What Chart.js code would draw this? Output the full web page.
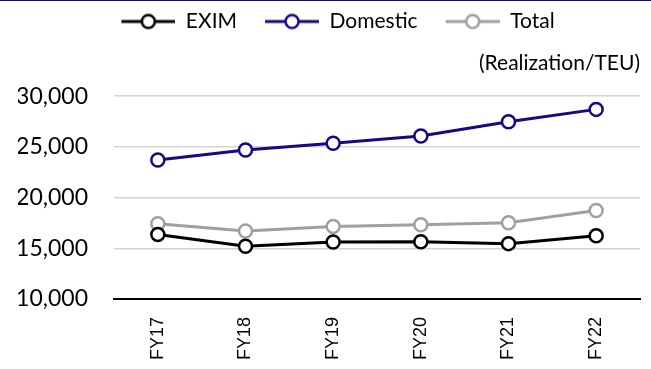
<!DOCTYPE html>
<html>
<head>
<meta charset="utf-8">
<script src="https://cdn.jsdelivr.net/npm/chart.js@4"></script>
<style>
  html, body { margin: 0; padding: 0; background: #fff; }
  #wrap { width: 651px; height: 369px; border-top: 1px solid #1a0a80; box-sizing: border-box; }
</style>
</head>
<body>
<div id="wrap"><canvas id="realizationChart" width="651" height="368"></canvas></div>
<script>
var labels = ["FY17", "FY18", "FY19", "FY20", "FY21", "FY22"];
var eximData = [16370, 15200, 15620, 15650, 15460, 16240];
var domesticData = [23700, 24700, 25360, 26080, 27480, 28700];
var totalData = [17420, 16700, 17160, 17320, 17520, 18730];

var eximColor = "#000000";
var domesticColor = "#140a82";
var totalColor = "#a0a0a0";

// legend marker: short line with hollow circle (left part is blank spacing)
var markerGap = 18;
var makeMarker = function(color) {
  var c = document.createElement("canvas");
  c.width = 54 + markerGap;
  c.height = 18;
  var ctx = c.getContext("2d");
  ctx.strokeStyle = color;
  ctx.lineWidth = 3;
  ctx.beginPath();
  ctx.moveTo(markerGap, 9);
  ctx.lineTo(markerGap + 54, 9);
  ctx.stroke();
  ctx.beginPath();
  ctx.arc(markerGap + 27, 9, 6.5, 0, Math.PI * 2);
  ctx.fillStyle = "#fff";
  ctx.fill();
  ctx.lineWidth = 2.5;
  ctx.stroke();
  return c;
};

var lineSet = function(label, data, color) {
  return {
    label: label,
    data: data,
    borderColor: color,
    backgroundColor: "#fff",
    borderWidth: 3,
    pointRadius: 6.5,
    pointBorderWidth: 2.5,
    pointBackgroundColor: "#fff",
    pointBorderColor: color,
    pointStyle: "circle",
    legendMarker: makeMarker(color),
    tension: 0,
  };
};

const dataRealization = {
  labels: labels,
  datasets: [
    lineSet("EXIM", eximData, eximColor),
    lineSet("Domestic", domesticData, domesticColor),
    lineSet("Total", totalData, totalColor),
  ],
};

const configRealization = {
  type: "line",
  data: dataRealization,
  options: {
    responsive: false,
    animation: false,
    layout: { padding: { left: 18, right: 11, top: 0, bottom: 5 } },
    plugins: {
      legend: {
        display: true,
        position: "top",
        labels: {
          usePointStyle: true,
          pointStyleWidth: 54 + markerGap,
          padding: 10,
          color: "#000",
          font: { family: "Lato", size: 21 },
          generateLabels: function(chart) {
            return chart.data.datasets.map(function(ds, i) {
              return {
                text: ds.label,
                pointStyle: ds.legendMarker,
                fillStyle: "#fff",
                strokeStyle: ds.borderColor,
                lineWidth: 0,
                fontColor: "#000",
                datasetIndex: i,
                hidden: false,
              };
            });
          },
        },
      },
      title: {
        display: true,
        text: "(Realization/TEU)",
        align: "end",
        position: "top",
        weight: 500,
        color: "#000",
        font: { family: "Lato", size: 21, weight: "normal" },
        padding: { top: 9, bottom: 20 },
      },
      tooltip: { enabled: false },
    },
    scales: {
      x: {
        offset: true,
        grid: { display: false, drawTicks: false },
        border: { display: true, color: "#000", width: 2 },
        ticks: {
          color: "#000",
          font: { family: "'Liberation Sans Narrow', 'Liberation Sans'", size: 18 },
          minRotation: 90,
          maxRotation: 90,
          padding: 18,
        },
        afterFit: function(scale) { scale.height = 65; },
      },
      y: {
        min: 10000,
        max: 30000,
        grid: { color: "#d4d4d4", lineWidth: 1.5, drawTicks: false },
        border: { display: false },
        ticks: {
          stepSize: 5000,
          color: "#000",
          padding: 26,
          font: { family: "Lato", size: 23 },
          callback: function(v) { return v.toLocaleString("en-US"); },
        },
        afterFit: function(scale) { scale.width = 96; },
      },
    },
  },
};

var realizationChart = new Chart(
  document.getElementById("realizationChart"),
  configRealization
);
</script>
</body>
</html>
